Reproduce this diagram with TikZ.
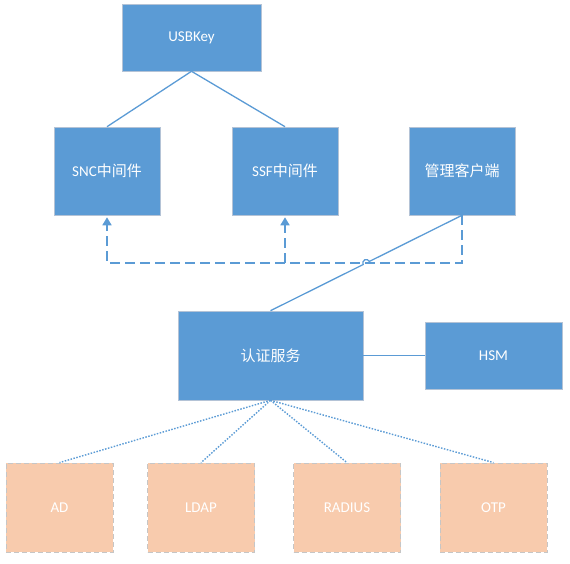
\documentclass[tikz,border=0pt]{standalone}
\usepackage{fontspec}
\setmainfont{Carlito}
\newfontfamily\cjk{Noto Sans CJK SC}
\usepackage{xcolor}
\usepackage{tikz}
\usetikzlibrary{arrows.meta,calc}
\definecolor{boxblue}{HTML}{5B9BD5}
\definecolor{boxorange}{HTML}{F8CBAD}
\definecolor{rimgray}{HTML}{B4C3D6}

\begin{document}
\begin{tikzpicture}[x=1pt,y=1pt, every node/.style={text=white,font=\fontsize{15}{18}\selectfont,inner sep=0pt},
  blue box/.style={draw=rimgray,line width=0.6pt,fill=boxblue},
  ext box/.style={draw=gray!45,dashed,dash pattern=on 5pt off 3pt,line width=0.8pt,fill=boxorange,minimum width=107pt,minimum height=89pt},
  link/.style={draw=boxblue,line width=1.3pt},
  dotlink/.style={draw=boxblue,line width=1.4pt,dash pattern=on 1.5pt off 1.5pt},
  dashlink/.style={draw=boxblue,line width=1.7pt,dash pattern=on 10pt off 5pt}]
\useasboundingbox (0,0) rectangle (570,563);
\node (usb) [blue box,minimum width=139pt,minimum height=67pt] at (191.5,525.5) {USBKey};
\node (snc) [blue box,minimum width=106pt,minimum height=88pt] at (107,392) {SNC{\cjk 中间件}};
\node (ssf) [blue box,minimum width=106pt,minimum height=88pt] at (285,392) {SSF{\cjk 中间件}};
\node (mgr) [blue box,minimum width=106pt,minimum height=88pt] at (462,392) {\cjk 管理客户端};
\node (auth) [blue box,minimum width=185pt,minimum height=89pt] at (270.5,207.5) {\cjk 认证服务};
\node (hsm) [blue box,minimum width=137pt,minimum height=67pt] at (493.5,207.5) {HSM};
\node (ad) [ext box] at (59.5,55.5) {AD};
\node (ldap) [ext box] at (201,55.5) {LDAP};
\node (radius) [ext box] at (347,55.5) {RADIUS};
\node (otp) [ext box] at (493.5,55.5) {OTP};
\coordinate (hop) at ($(mgr.south)!.5!(auth.north)$);
\draw[link] (usb.south) -- (snc.north);
\draw[link] (usb.south) -- (ssf.north);
\draw[link] (auth.east) -- (hsm.west);
\draw[link] (mgr.south) -- ($(hop)!3.5pt!(mgr.south)$) arc[start angle=26.6,end angle=206.6,radius=3.5pt] -- (auth.north);
\draw[dashlink,-{Triangle[width=9pt,length=8pt]}] (mgr.south) -- (mgr.south |- hop) -- (snc.south |- hop) -- ([yshift=-2pt]snc.south);
\draw[dashlink,-{Triangle[width=9pt,length=8pt]}] (ssf.south |- hop) -- ([yshift=-2pt]ssf.south);
\draw[dotlink] (auth.south) -- (ad.north);
\draw[dotlink] (auth.south) -- (ldap.north);
\draw[dotlink] (auth.south) -- (radius.north);
\draw[dotlink] (auth.south) -- (otp.north);
\end{tikzpicture}
\end{document}
